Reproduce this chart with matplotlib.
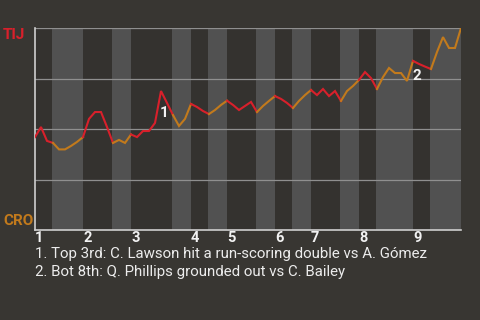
import matplotlib
matplotlib.use("Agg")
import matplotlib.pyplot as plt

plt.rcParams['font.family'] = ['Roboto', 'DejaVu Sans']

# TIJ win probability after each plate appearance
win_prob = [0.460, 0.510, 0.441, 0.431, 0.399, 0.399, 0.416, 0.436, 0.460,
            0.550, 0.584, 0.584, 0.510, 0.431, 0.446, 0.431, 0.473, 0.460,
            0.490, 0.490, 0.530, 0.688, 0.629, 0.569, 0.515, 0.550, 0.624,
            0.609, 0.589, 0.574, 0.594, 0.619, 0.640, 0.619, 0.594, 0.614,
            0.634, 0.584, 0.614, 0.639, 0.663, 0.649, 0.629, 0.604, 0.639,
            0.668, 0.693, 0.668, 0.698, 0.663, 0.688, 0.639, 0.688, 0.713,
            0.743, 0.782, 0.752, 0.698, 0.757, 0.802, 0.777, 0.777, 0.738,
            0.837, 0.822, 0.809, 0.797, 0.881, 0.955, 0.901, 0.901, 1.000]

# plate appearance index where each half inning starts (last = end of game)
half_starts = [0, 3, 8, 13, 16, 23, 26, 29, 32, 37, 40, 43, 46, 51, 54, 57, 63, 66, 71]
innings = ['1', '2', '3', '4', '5', '6', '7', '8', '9']

away_team, home_team = 'TIJ', 'CRO'
notes_at = [21, 63]
notes = ['1. Top 3rd: C. Lawson hit a run-scoring double vs A. Gómez',
         '2. Bot 8th: Q. Phillips grounded out vs C. Bailey']

bg = '#383632'
red = '#d8202b'
orange = '#c27a1c'

fig = plt.figure(figsize=(4.8, 3.2), dpi=100, facecolor=bg)
ax = fig.add_axes([35/480, 1 - 230/320, 426/480, 202/320])
ax.set_facecolor(bg)

# half-inning bands and line pieces
for k in range(len(half_starts) - 1):
    a, b = half_starts[k], half_starts[k + 1]
    top = (k % 2 == 0)
    if top:
        ax.axvspan(a, b, color='#34322f', lw=0, zorder=0)
    else:
        ax.axvspan(a - 0.15, b + 0.15, color='#515151', lw=0, zorder=0)
    xs = list(range(a, b + 1))
    ax.plot(xs, win_prob[a:b + 1], color=red if top else orange,
            lw=1.5, solid_joinstyle='miter', zorder=3)

for g in [0.25, 0.5, 0.75, 1.0]:
    ax.axhline(g, color='#8f8f8f', lw=0.9, zorder=1)

ax.set_xlim(0, half_starts[-1])
ax.set_ylim(0, 1)
ax.set_xticks([])
ax.set_yticks([])
for s in ['top', 'right']:
    ax.spines[s].set_visible(False)
for s in ['left', 'bottom']:
    ax.spines[s].set_color('#cfcfcf')
    ax.spines[s].set_linewidth(1.2)

# inning numbers
for i, lab in enumerate(innings):
    ax.text(half_starts[2 * i], -0.06, lab, transform=ax.get_xaxis_transform(),
            ha='left', va='baseline', fontsize=10.5, fontweight='bold',
            color='#f2f2f2')

# note markers
for n, idx in enumerate(notes_at):
    off = (2, -16) if n == 0 else (2.5, -11)
    ax.annotate(str(n + 1), (idx, win_prob[idx]), xytext=off,
                textcoords='offset points', ha='center', va='center',
                fontsize=11, fontweight='bold', color='#f2f2f2', zorder=4)

fig.text(3/480, 1 - 39/320, away_team, color=red, fontsize=11,
         fontweight='bold', va='baseline')
fig.text(3/480, 1 - 225/320, home_team, color=orange, fontsize=11,
         fontweight='bold', va='baseline')

fig.text(35/480, 1 - 258/320, notes[0], color='#ececec', fontsize=10.8,
         va='baseline')
fig.text(35/480, 1 - 276/320, notes[1], color='#ececec', fontsize=10.8,
         va='baseline')

fig.savefig('out.png', dpi=100, facecolor=bg)
